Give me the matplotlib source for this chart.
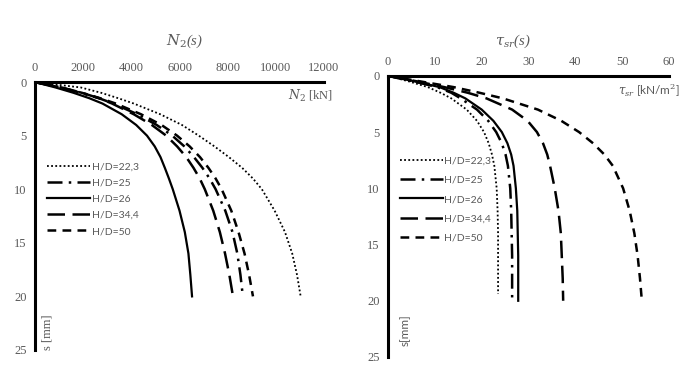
import matplotlib.pyplot as plt

# settlement s [mm]
s = [0, 0.5, 1, 1.5, 2, 3, 4, 5, 6, 7, 8, 9, 10, 12, 14, 16, 18, 20]
labels = ['H/D=22,3', 'H/D=25', 'H/D=26', 'H/D=34,4', 'H/D=50']

# N2(s) [kN]
n_223 = [0, 1900, 2750, 3450, 4100, 5200, 6100, 6800, 7450, 8050, 8600, 9050, 9420,
         9950, 10380, 10680, 10880, 11030]
n_25 = [0, 1050, 1900, 2650, 3250, 4250, 5050, 5700, 6200, 6600, 6950, 7250, 7500,
        7900, 8200, 8400, 8530, 8630]
n_26 = [0, 850, 1600, 2250, 2800, 3600, 4200, 4650, 4970, 5210, 5390, 5560, 5720,
        6000, 6220, 6370, 6450, 6520]
n_344 = [0, 1100, 1950, 2650, 3200, 4100, 4850, 5450, 5900, 6280, 6580, 6840, 7050,
         7400, 7675, 7890, 8070, 8220]
n_50 = [0, 1050, 1950, 2700, 3350, 4400, 5250, 5900, 6420, 6850, 7200, 7500, 7750,
        8150, 8450, 8700, 8890, 9050]

# tau_sr(s) [kN/m2]
s_t = [0, 0.5, 1, 1.5, 2, 3, 4, 5, 6, 7, 8, 10, 12, 14, 16, 18, 20]
s_t223 = [0, 0.5, 1, 1.5, 2, 3, 4, 5, 6, 7, 8, 10, 12, 14, 16, 18, 19.4]
t_223 = [0, 4.5, 8.5, 11.2, 13.5, 16.8, 19, 20.5, 21.5, 22.2, 22.7, 23.2, 23.4, 23.5,
         23.5, 23.5, 23.5]
t_25 = [0, 5.5, 10.5, 13.5, 15.5, 19, 21.4, 23.1, 24.3, 25.1, 25.6, 26.1, 26.3, 26.4,
        26.5, 26.5, 26.5]
t_26 = [0, 5.8, 11, 14, 16.5, 20, 22.5, 24.3, 25.5, 26.3, 26.8, 27.3, 27.6, 27.7,
        27.8, 27.8, 27.8]
t_344 = [0, 6.3, 12, 17, 21, 26.5, 29.8, 31.8, 33.1, 34, 34.6, 35.6, 36.4, 36.9, 37.1,
         37.3, 37.4]
t_50 = [0, 7, 14, 19.5, 24.5, 32, 37, 40.8, 43.8, 46.2, 48, 50.2, 51.6, 52.6, 53.3,
        53.8, 54.2]

styles = [dict(ls=(0, (1, 1.3)), lw=1.3),
          dict(ls=(0, (6, 2.5, 1, 2.5)), lw=1.8),
          dict(ls='-', lw=1.6),
          dict(ls=(0, (7, 3)), lw=1.8),
          dict(ls=(0, (3.5, 2.5)), lw=1.8)]

gray = '#595959'
serif = 'Liberation Serif'
sans = 'Lato'

fig = plt.figure(figsize=(6.95, 3.91), dpi=100)
ax1 = fig.add_axes([0.0504, 0.105, 0.4158, 0.685])
ax2 = fig.add_axes([0.5583, 0.087, 0.4043, 0.719])


def style_axes(ax, xmax, xstep):
    ax.set_xlim(0, xmax)
    ax.set_ylim(25, 0)
    ax.xaxis.tick_top()
    ax.set_xticks(range(0, xmax + 1, xstep))
    ax.set_yticks(range(0, 26, 5))
    ax.tick_params(length=0, pad=6, labelsize=9, labelcolor=gray)
    for lab in ax.get_xticklabels() + ax.get_yticklabels():
        lab.set_family(serif)
    for sp in ['right', 'bottom']:
        ax.spines[sp].set_visible(False)
    for sp in ['top', 'left']:
        ax.spines[sp].set_linewidth(2.2)


style_axes(ax1, 12000, 2000)
style_axes(ax2, 60, 10)

for n, st, lab in zip([n_223, n_25, n_26, n_344, n_50], styles, labels):
    ax1.plot(n, s, color='black', label=lab, **st)

t_series = [(s_t223, t_223), (s_t, t_25), (s_t, t_26), (s_t, t_344), (s_t, t_50)]
for (ss, t), st, lab in zip(t_series, styles, labels):
    ax2.plot(t, ss, color='black', label=lab, **st)

leg1 = ax1.legend(loc='upper left', bbox_to_anchor=(0.01, 0.735), frameon=False,
                  handlelength=4.1, handletextpad=0.15, labelspacing=0.65,
                  prop={'family': sans, 'size': 7.5})
leg2 = ax2.legend(loc='upper left', bbox_to_anchor=(0.01, 0.747), frameon=False,
                  handlelength=4.1, handletextpad=0.15, labelspacing=0.95,
                  prop={'family': sans, 'size': 7.5})
for leg in (leg1, leg2):
    for t in leg.get_texts():
        t.set_color(gray)

# titles
fig.text(0.266, 0.885, r'$N_2$(s)', family=serif, style='italic', size=10.5,
         color=gray, ha='center', math_fontfamily='dejavuserif')
fig.text(0.738, 0.885, r'$\tau_{sr}$(s)', family=serif, style='italic', size=10.5,
         color=gray, ha='center', math_fontfamily='dejavuserif')

# axis labels
fig.text(0.479, 0.745, r'$N_2$ [kN]', family=serif, size=9, color=gray,
         ha='right', math_fontfamily='dejavuserif')
fig.text(0.978, 0.758, r'$\tau_{sr}$ [kN/m$^2$]', family=sans, size=8.5, color=gray,
         ha='right', math_fontfamily='dejavuserif')
fig.text(0.068, 0.105, 's [mm]', family=serif, size=9, color=gray,
         rotation=90, ha='center', va='bottom')
fig.text(0.583, 0.115, 's[mm]', family=sans, size=8.5, color=gray,
         rotation=90, ha='center', va='bottom')

fig.savefig('out.png', dpi=100)
